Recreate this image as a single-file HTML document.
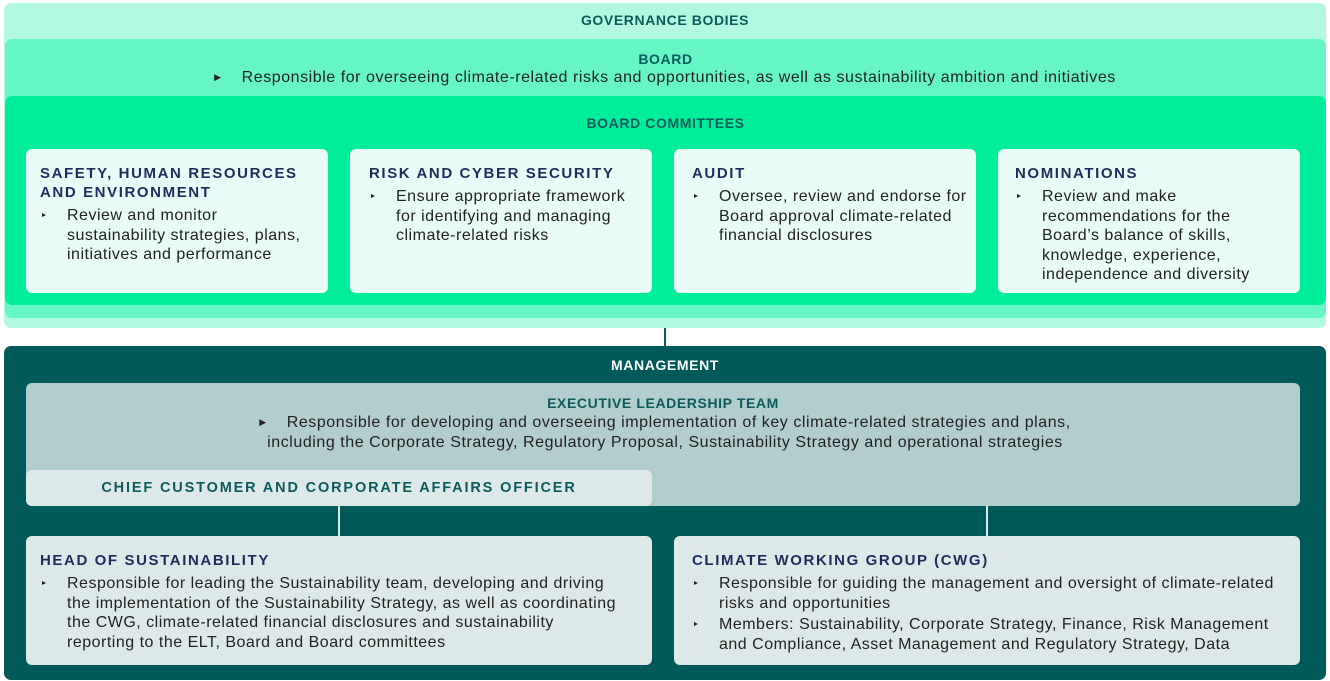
<!DOCTYPE html>
<html><head><meta charset="utf-8"><style>
*{margin:0;padding:0;box-sizing:border-box}
body{width:1330px;height:681px;background:#fff;font-family:"Liberation Sans",sans-serif;position:relative;overflow:hidden;color:#222}
.a{position:absolute}
.t{font-weight:bold;font-size:14px;letter-spacing:0.6px;text-align:center;color:#0b5b5b}
.body{font-size:16px;letter-spacing:0.55px}
.card{position:absolute;background:#e9fbf6;border-radius:6px;padding:15px 10px 0 14px}
.card h3{font-size:15px;letter-spacing:1.6px;color:#1f2d5c;line-height:19px;margin-bottom:4px}
.card ul{list-style:none}
.card li{position:relative;padding-left:27px;font-size:16px;letter-spacing:0.5px;line-height:19.6px;color:#222}
.card li:before{content:"";position:absolute;left:2px;top:7px;border-left:4px solid #222;border-top:2.5px solid transparent;border-bottom:2.5px solid transparent}
.m{background:#dde9e9}
</style></head><body>
<div class="a" style="left:4px;top:3px;width:1322px;height:325px;background:#b3f8e0;border-radius:7px"></div>
<div class="a t" style="left:4px;top:12px;width:1322px">GOVERNANCE BODIES</div>
<div class="a" style="left:5px;top:39px;width:1321px;height:279px;background:#66f5c4;border-radius:7px"></div>
<div class="a t" style="left:5px;top:51px;width:1321px">BOARD</div>
<div class="a body" style="left:0;top:69px;width:1330px;text-align:center"><span style="font-size:9px;vertical-align:2px;margin-right:20px">&#9654;</span>Responsible for overseeing climate-related risks and opportunities, as well as sustainability ambition and initiatives</div>
<div class="a" style="left:5px;top:96px;width:1321px;height:209px;background:#00ee99;border-radius:7px"></div>
<div class="a t" style="left:5px;top:115px;width:1321px">BOARD COMMITTEES</div>

<div class="card" style="left:26px;top:149px;width:302px;height:144px"><h3>SAFETY, HUMAN RESOURCES AND ENVIRONMENT</h3><ul><li>Review and monitor sustainability strategies, plans, initiatives and performance</li></ul></div>
<div class="card" style="left:350px;top:149px;width:302px;height:144px;padding-left:19px"><h3>RISK AND CYBER SECURITY</h3><ul><li>Ensure appropriate framework for identifying and managing climate-related risks</li></ul></div>
<div class="card" style="left:674px;top:149px;width:302px;height:144px;padding-left:18px;padding-right:4px"><h3>AUDIT</h3><ul><li>Oversee, review and endorse for Board approval climate-related financial disclosures</li></ul></div>
<div class="card" style="left:998px;top:149px;width:302px;height:144px;padding-left:17px"><h3>NOMINATIONS</h3><ul><li>Review and make recommendations for the Board’s balance of skills, knowledge, experience, independence and diversity</li></ul></div>

<div class="a" style="left:664px;top:328px;width:2px;height:20px;background:#0b5b5b"></div>
<div class="a" style="left:4px;top:346px;width:1322px;height:334px;background:#005a5a;border-radius:7px"></div>
<div class="a t" style="left:4px;top:357px;width:1322px;color:#fff">MANAGEMENT</div>
<div class="a" style="left:26px;top:383px;width:1274px;height:123px;background:#b1cdcd;border-radius:6px"></div>
<div class="a t" style="left:26px;top:395px;width:1274px">EXECUTIVE LEADERSHIP TEAM</div>
<div class="a body" style="left:0;top:412px;width:1330px;text-align:center;line-height:20px"><span style="font-size:9px;vertical-align:2px;margin-right:20px">&#9654;</span>Responsible for developing and overseeing implementation of key climate-related strategies and plans,<br>including the Corporate Strategy, Regulatory Proposal, Sustainability Strategy and operational strategies</div>
<div class="a" style="left:26px;top:470px;width:626px;height:36px;background:#dde9e9;border-radius:6px"></div>
<div class="a t" style="left:26px;top:480px;width:626px;font-size:14.5px;letter-spacing:1.85px">CHIEF CUSTOMER AND CORPORATE AFFAIRS OFFICER</div>
<div class="a" style="left:338px;top:506px;width:2px;height:30px;background:#dde9e9"></div>
<div class="a" style="left:986px;top:506px;width:2px;height:30px;background:#dde9e9"></div>
<div class="card m" style="left:26px;top:536px;width:626px;height:129px;padding-right:32px"><h3>HEAD OF SUSTAINABILITY</h3><ul><li>Responsible for leading the Sustainability team, developing and driving the implementation of the Sustainability Strategy, as well as coordinating the CWG, climate-related financial disclosures and sustainability reporting to the ELT, Board and Board committees</li></ul></div>
<div class="card m" style="left:674px;top:536px;width:626px;height:129px;padding-left:18px;padding-right:14px"><h3>CLIMATE WORKING GROUP (CWG)</h3><ul><li>Responsible for guiding the management and oversight of climate-related risks and opportunities</li><li style="margin-top:2px">Members: Sustainability, Corporate Strategy, Finance, Risk Management and Compliance, Asset Management and Regulatory Strategy, Data</li></ul></div>
</body></html>
